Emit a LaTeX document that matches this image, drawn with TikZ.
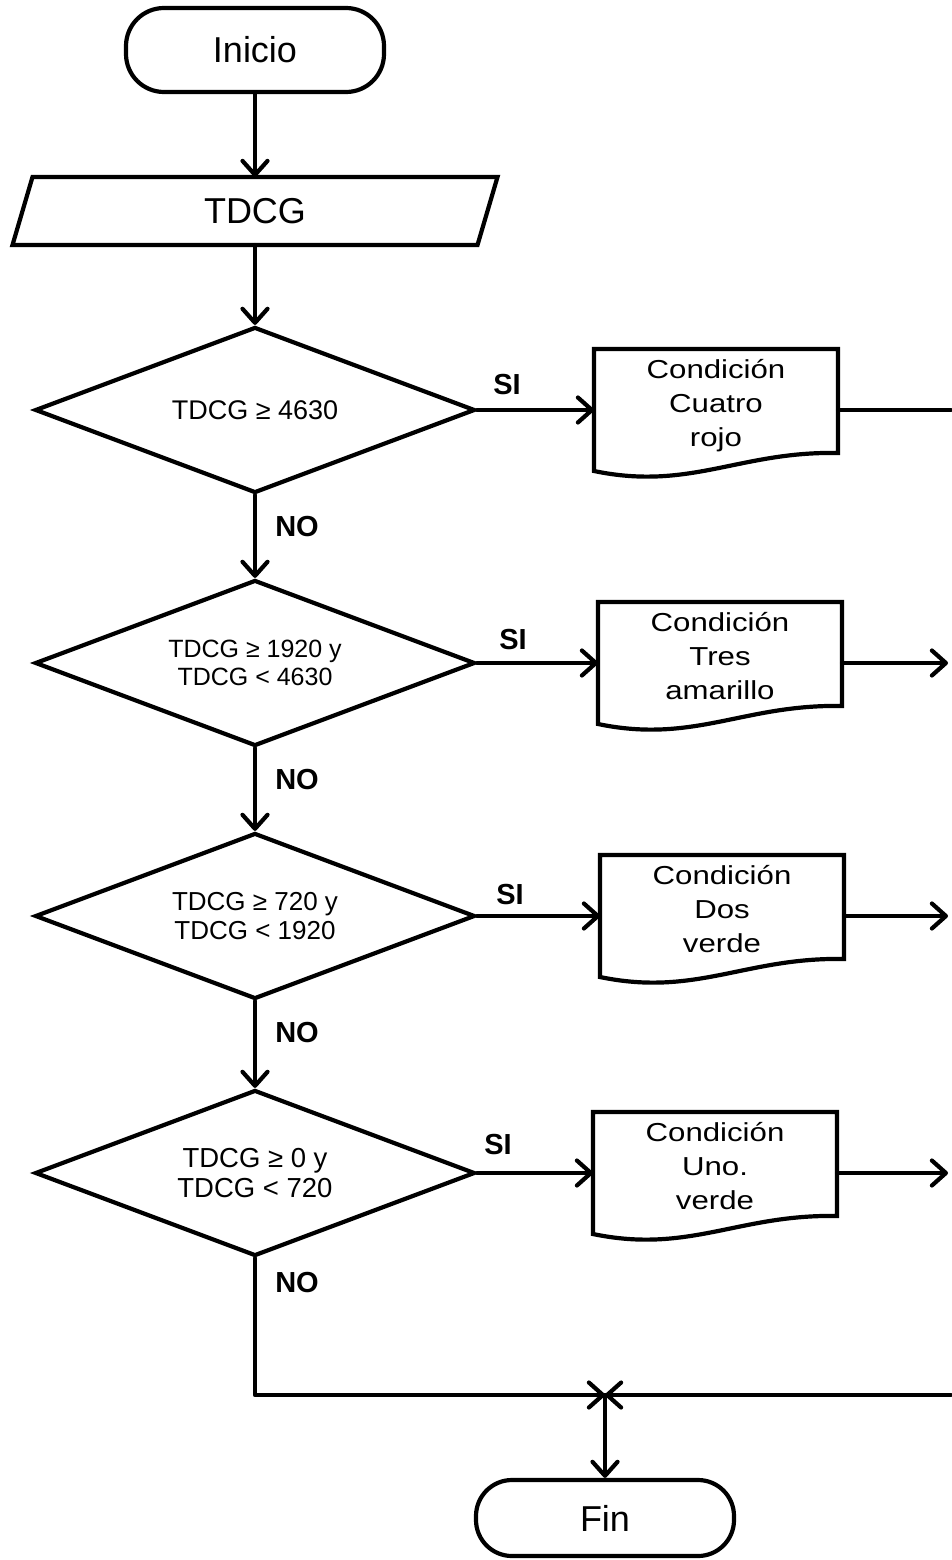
\documentclass[tikz,border=0pt]{standalone}
\usepackage{fontspec}
\setmainfont{Liberation Sans}
\newfontfamily\docfont[FakeStretch=1.2]{Liberation Sans}
\usetikzlibrary{arrows.meta,shapes.geometric,calc}

\tikzset{
  flow/.style={line width=4.2pt, line cap=round, line join=round},
  arr/.style={flow, -{Straight Barb[length=14pt,width=25pt,round]}},
  term/.style={draw, line width=4.2pt, rectangle, rounded corners=38pt,
    minimum width=258pt, minimum height=84pt, inner sep=0pt,
    font=\fontsize{36}{42}\selectfont},
  iobox/.style={rectangle, minimum width=485pt, minimum height=68pt,
    inner sep=0pt, outer sep=0pt, font=\fontsize{36}{42}\selectfont},
  decision/.style={draw, line width=4.2pt, diamond, aspect=2.65,
    minimum width=440pt, minimum height=166pt, inner sep=0pt, align=center},
  docframe/.style={rectangle, minimum width=244pt, minimum height=122pt,
    inner sep=0pt, outer sep=0pt},
  doctext/.style={anchor=north, inner sep=0pt, align=center,
    font=\docfont\fontsize{26}{34}\selectfont},
  answer/.style={inner sep=0pt, font=\bfseries\fontsize{29}{32}\selectfont},
}

% document symbol: flat top, wavy bottom edge
\newcommand\docoutline[1]{%
  \draw[line width=4.2pt] (#1.north west) -- (#1.north east)
    -- ([yshift=-104pt]#1.north east)
    .. controls ([xshift=146pt,yshift=-102pt]#1.north west)
       and ([xshift=96pt,yshift=-142pt]#1.north west) ..
    (#1.south west) -- cycle;}

\begin{document}
\begin{tikzpicture}[x=1pt,y=-1pt]
\useasboundingbox (0,0) rectangle (951,1560);

% start and data input
\node[term] (ini) at (255,50) {Inicio};
\node[iobox] (in) at (255,211) {TDCG};
\draw[line width=4.2pt] ([xshift=20pt]in.north west) -- (in.north east)
  -- ([xshift=-20pt]in.south east) -- (in.south west) -- cycle;

% decisions
\node[decision, font=\fontsize{27}{30}\selectfont] (d1) at (255,410) {TDCG ≥ 4630};
\node[decision, font=\fontsize{25}{28}\selectfont] (d2) at (255,663) {TDCG ≥ 1920 y\\TDCG < 4630};
\node[decision, font=\fontsize{26}{29}\selectfont] (d3) at (255,916) {TDCG ≥ 720 y\\TDCG < 1920};
\node[decision, font=\fontsize{27.5}{30}\selectfont] (d4) at (255,1173) {TDCG ≥ 0 y\\TDCG < 720};

% result documents
\node[docframe] (c1) at (716,410) {};
\node[doctext] (t1) at (716,359) {Condición\\Cuatro\\rojo};
\docoutline{c1}
\node[docframe] (c2) at (720,663) {};
\node[doctext] (t2) at (720,612) {Condición\\Tres\\amarillo};
\docoutline{c2}
\node[docframe] (c3) at (722,916) {};
\node[doctext] (t3) at (722,865) {Condición\\Dos\\verde};
\docoutline{c3}
\node[docframe] (c4) at (715,1173) {};
\node[doctext] (t4) at (715,1122) {Condición\\Uno.\\verde};
\docoutline{c4}

% branch labels
\node[answer] (s1) at (507,385) {SI};
\node[answer] (s2) at (513,640) {SI};
\node[answer] (s3) at (510,895) {SI};
\node[answer] (s4) at (498,1145) {SI};
\node[answer] (n1) at (297,527) {NO};
\node[answer] (n2) at (297,780) {NO};
\node[answer] (n3) at (297,1033) {NO};
\node[answer] (n4) at (297,1283) {NO};

% end
\node[term, minimum height=76pt, rounded corners=36pt] (fin) at (605,1518) {Fin};

% free ends and merge point
\coordinate (o1) at (951,410);
\coordinate (o2) at (948,663);
\coordinate (o3) at (948,916);
\coordinate (o4) at (948,1173);
\coordinate (m) at (605,1395);
\coordinate (mr) at (951,1395);

% main column
\draw[arr] (ini) -- (in);
\draw[arr] (in) -- (d1);
\draw[arr] (d1) -- (d2);
\draw[arr] (d2) -- (d3);
\draw[arr] (d3) -- (d4);

% yes branches
\draw[arr] (d1) -- (c1);
\draw[arr] (d2) -- (c2);
\draw[arr] (d3) -- (c3);
\draw[arr] (d4) -- (c4);
\draw[flow] (c1.east) -- (o1);
\draw[arr] (c2.east) -- (o2);
\draw[arr] (c3.east) -- (o3);
\draw[arr] (c4.east) -- (o4);

% merge into end
\draw[arr] (d4.south) |- (m);
\draw[arr] (mr) -- (m);
\draw[arr] (m) -- (fin);
\end{tikzpicture}
\end{document}
